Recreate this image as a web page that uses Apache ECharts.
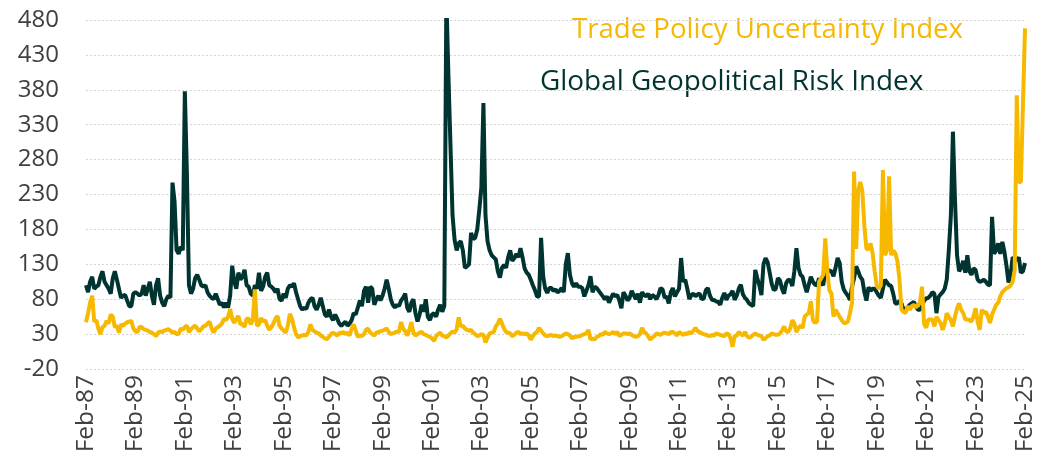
<!DOCTYPE html>
<html>
<head>
<meta charset="utf-8">
<script src="https://cdn.jsdelivr.net/npm/echarts@6/dist/echarts.min.js"></script>
<style>
html,body{margin:0;padding:0;background:#fff;}
#chart{width:1063px;height:460px;}
</style>
</head>
<body>
<div id="chart"></div>
<script>
// Monthly data, Feb-87 .. Feb-25 (one row = Feb..Jan of the following year)
const gprValues = [
  100, 90, 105, 112, 95, 98, 100, 112, 120, 105, 100, 95,      // 1987
  88, 110, 120, 108, 95, 82, 85, 86, 78, 70, 70, 88,          // 1988
  90, 88, 85, 88, 100, 85, 95, 105, 85, 72, 100, 110,         // 1989
  85, 75, 70, 80, 85, 82, 247, 220, 150, 145, 155, 150,       // 1990
  378, 260, 100, 88, 95, 110, 115, 108, 100, 98, 100, 90,     // 1991
  85, 82, 80, 88, 80, 72, 75, 68, 75, 68, 85, 128,            // 1992
  105, 95, 118, 108, 112, 122, 100, 98, 88, 85, 100, 95,      // 1993
  118, 92, 98, 112, 118, 100, 98, 95, 90, 95, 80, 78,         // 1994
  88, 82, 95, 100, 98, 103, 90, 80, 70, 65, 68, 66,           // 1995
  75, 80, 82, 70, 65, 72, 82, 70, 58, 55, 65, 55,             // 1996
  50, 58, 52, 45, 42, 45, 48, 42, 45, 50, 60, 58,             // 1997
  68, 78, 70, 92, 98, 75, 98, 95, 72, 80, 85, 78,             // 1998
  85, 95, 108, 95, 80, 72, 68, 72, 70, 78, 82, 88,            // 1999
  68, 62, 75, 80, 60, 48, 58, 72, 62, 80, 55, 50,             // 2000
  58, 60, 55, 65, 72, 62, 70, 512, 400, 300, 200, 165,        // 2001
  150, 160, 163, 150, 125, 127, 130, 175, 166, 168, 180, 208, // 2002
  240, 361, 200, 163, 150, 143, 140, 137, 120, 111, 125, 129, // 2003
  125, 140, 150, 135, 139, 145, 140, 153, 140, 124, 118, 115, // 2004
  108, 100, 93, 84, 84, 168, 113, 95, 89, 96, 96, 92,         // 2005
  94, 90, 92, 96, 90, 130, 146, 115, 103, 98, 103, 98,        // 2006
  98, 96, 84, 92, 100, 113, 90, 98, 96, 92, 88, 84,           // 2007
  80, 84, 75, 82, 88, 84, 86, 78, 67, 90, 85, 78,             // 2008
  82, 92, 86, 80, 88, 75, 90, 86, 84, 88, 80, 86,             // 2009
  84, 80, 86, 96, 94, 82, 84, 74, 90, 96, 84, 90,             // 2010
  95, 139, 105, 108, 95, 80, 86, 88, 84, 87, 88, 80,          // 2011
  81, 93, 96, 85, 79, 79, 77, 76, 72, 82, 89, 79,             // 2012
  85, 87, 92, 79, 85, 95, 101, 87, 82, 79, 74, 72,            // 2013
  70, 122, 110, 100, 86, 130, 139, 133, 118, 102, 93, 95,     // 2014
  110, 107, 95, 88, 103, 108, 107, 99, 120, 153, 125, 115,    // 2015
  112, 100, 90, 101, 112, 105, 101, 100, 110, 104, 100, 120,  // 2016
  122, 121, 120, 113, 125, 139, 132, 105, 94, 89, 85, 79,     // 2017
  98, 110, 127, 120, 112, 108, 90, 78, 97, 92, 95, 95,        // 2018
  90, 85, 82, 95, 108, 104, 100, 99, 88, 74, 74, 78,          // 2019
  74, 65, 65, 68, 72, 74, 76, 70, 65, 65, 70, 78,             // 2020
  81, 82, 85, 90, 88, 60, 83, 87, 90, 95, 108, 150,           // 2021
  200, 320, 222, 143, 120, 125, 135, 118, 143, 120, 115, 124, // 2022
  122, 108, 105, 106, 108, 105, 101, 100, 198, 145, 150, 160, // 2023
  145, 162, 148, 128, 104, 115, 140, 138, 136, 140, 118, 120, // 2024
  132                                                         // Feb-25
];
const tpuValues = [
  47, 60, 75, 85, 48, 50, 38, 30, 40, 42, 49, 45,             // 1987
  58, 55, 40, 42, 32, 44, 42, 45, 47, 48, 49, 38,             // 1988
  34, 33, 40, 40, 37, 36, 35, 33, 32, 30, 27, 32,             // 1989
  34, 33, 35, 36, 37, 35, 32, 33, 30, 30, 38, 36,             // 1990
  40, 42, 33, 37, 40, 42, 38, 34, 37, 41, 42, 45,             // 1991
  48, 38, 32, 38, 40, 42, 45, 52, 50, 55, 66, 52,             // 1992
  46, 52, 56, 44, 45, 40, 52, 52, 44, 50, 94, 42,             // 1993
  44, 53, 48, 50, 42, 36, 40, 45, 52, 56, 42, 38,             // 1994
  35, 32, 42, 59, 52, 40, 30, 25, 27, 28, 29, 28,             // 1995
  33, 44, 36, 34, 32, 31, 28, 26, 24, 23, 26, 30,             // 1996
  32, 30, 28, 32, 31, 33, 30, 32, 28, 38, 44, 35,             // 1997
  26, 28, 27, 30, 36, 38, 32, 30, 28, 32, 33, 34,             // 1998
  35, 36, 38, 33, 30, 31, 32, 34, 33, 47, 38, 34,             // 1999
  28, 36, 47, 32, 28, 30, 32, 33, 30, 29, 27, 26,             // 2000
  24, 20, 27, 30, 32, 28, 27, 25, 28, 31, 34, 32,             // 2001
  37, 54, 41, 42, 38, 36, 35, 36, 32, 30, 27, 28,             // 2002
  30, 29, 18, 25, 31, 32, 33, 41, 45, 52, 45, 38,             // 2003
  33, 32, 31, 27, 29, 32, 33, 30, 31, 30, 31, 28,             // 2004
  22, 27, 31, 33, 39, 35, 31, 28, 27, 28, 29, 27,             // 2005
  28, 27, 26, 27, 29, 31, 30, 28, 24, 26, 26, 27,             // 2006
  27, 29, 30, 31, 36, 22, 24, 22, 26, 27, 30, 29,             // 2007
  33, 31, 30, 31, 33, 30, 33, 27, 29, 31, 31, 30,             // 2008
  31, 29, 27, 26, 27, 30, 39, 33, 31, 27, 22, 25,             // 2009
  27, 31, 30, 29, 31, 32, 31, 30, 33, 33, 31, 28,             // 2010
  33, 31, 29, 31, 30, 33, 31, 35, 39, 34, 33, 31,             // 2011
  30, 29, 28, 27, 29, 28, 31, 30, 29, 28, 27, 31,             // 2012
  30, 24, 12, 27, 28, 33, 30, 28, 33, 27, 25, 26,             // 2013
  29, 31, 29, 28, 27, 22, 24, 27, 28, 31, 30, 29,             // 2014
  29, 31, 35, 41, 34, 33, 38, 50, 45, 33, 39, 42,             // 2015
  39, 55, 58, 60, 77, 50, 46, 48, 105, 110, 115, 167,         // 2016
  120, 93, 88, 55, 65, 60, 55, 50, 46, 46, 48, 60,            // 2017
  75, 263, 152, 235, 248, 235, 185, 152, 152, 160, 146, 120,  // 2018
  100, 95, 100, 265, 143, 150, 256, 143, 150, 146, 135, 110,  // 2019
  65, 62, 60, 70, 65, 70, 72, 68, 72, 75, 98, 45,             // 2020
  39, 51, 51, 51, 41, 55, 50, 46, 36, 45, 60, 55,             // 2021
  50, 41, 55, 67, 74, 65, 60, 51, 51, 50, 48, 55,             // 2022
  67, 48, 36, 65, 60, 62, 55, 46, 58, 65, 72, 75,             // 2023
  84, 90, 93, 96, 97, 100, 105, 122, 372, 248, 248, 358,      // 2024
  468                                                         // Feb-25
];
const monthNames = ['Jan','Feb','Mar','Apr','May','Jun','Jul','Aug','Sep','Oct','Nov','Dec'];
const startYear = 1987, startMonth = 1; // Feb
const yTicks = { min: -20, max: 480, step: 50 };
const seriesNames = ['Global Geopolitical Risk Index', 'Trade Policy Uncertainty Index'];

const categories = [];
for (let k = 0; k < gprValues.length; k++) {
  const m = (startMonth + k) % 12;
  const y = startYear + Math.floor((startMonth + k) / 12);
  categories.push(monthNames[m] + '-' + String(y % 100).padStart(2, '0'));
}

const FONT = '"Open Sans", "Noto Sans", sans-serif';
const GREEN = '#003430';
const GOLD = '#F7B800';

const chart = echarts.init(document.getElementById('chart'), null, { renderer: 'canvas' });
chart.setOption({
  animation: false,
  backgroundColor: '#ffffff',
  grid: { left: 86, right: 38, top: 20, bottom: 91, containLabel: false },
  xAxis: {
    type: 'category',
    data: categories,
    boundaryGap: false,
    axisLine: { show: false },
    axisTick: { show: false },
    splitLine: { show: false },
    axisLabel: {
      interval: 23,
      rotate: 90,
      margin: 6,
      color: '#404040',
      fontSize: 24.5,
      fontFamily: FONT
    }
  },
  yAxis: {
    type: 'value',
    min: yTicks.min,
    max: yTicks.max,
    interval: yTicks.step,
    axisLine: { show: false },
    axisTick: { show: false },
    axisLabel: { color: '#404040', fontSize: 24, fontFamily: FONT, margin: 27 },
    splitLine: { show: true, lineStyle: { type: [2, 2], color: '#d4d4d4', width: 1 } }
  },
  graphic: [
    { type: 'text', left: 572, top: 16,
      style: { text: seriesNames[1], fill: GOLD, font: '27.6px ' + FONT } },
    { type: 'text', left: 540, top: 68,
      style: { text: seriesNames[0], fill: GREEN, font: '27.9px ' + FONT } }
  ],
  series: [
    { name: seriesNames[0], type: 'line', data: gprValues, showSymbol: false,
      lineStyle: { color: GREEN, width: 4 }, itemStyle: { color: GREEN }, clip: true, z: 2 },
    { name: seriesNames[1], type: 'line', data: tpuValues, showSymbol: false,
      lineStyle: { color: GOLD, width: 4 }, itemStyle: { color: GOLD }, clip: true, z: 3 }
  ]
});
</script>
</body>
</html>
